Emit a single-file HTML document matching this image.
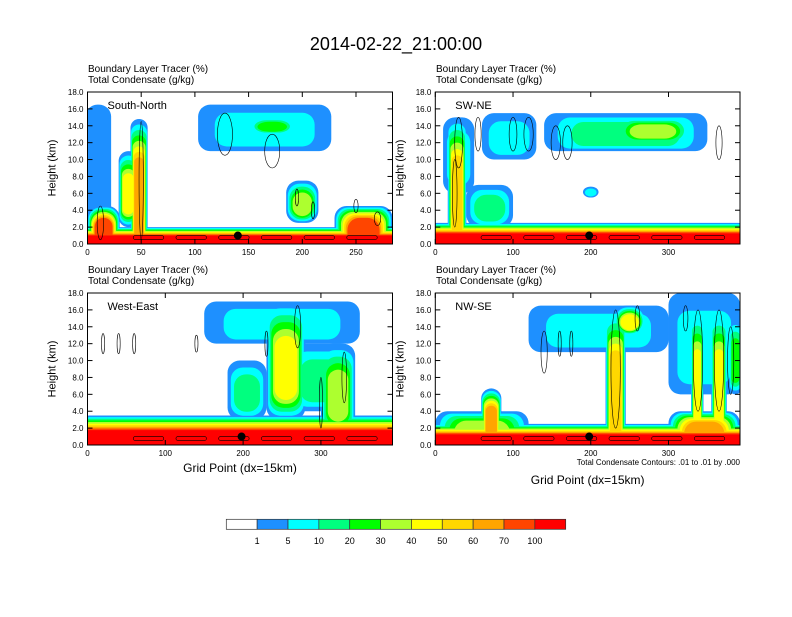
<!DOCTYPE html>
<html><head><meta charset="utf-8"><style>
body{margin:0;background:#fff}
svg text{font-family:"Liberation Sans",sans-serif;fill:#000}
</style></head><body>
<svg id="s" width="792" height="612" viewBox="0 0 792 612">
<rect width="792" height="612" fill="#fff"/>
<text x="396" y="50" font-size="18" text-anchor="middle">2014-02-22_21:00:00</text>
</svg>
<script>
const levelColors=["#ffffff","#1e90ff","#00ffff","#00ff7f","#00ff00","#adff2f","#ffff00","#ffd700","#ffa500","#ff4500","#ff0000"];
const cbarLabels=["1","5","10","20","30","40","50","60","70","100"];
const yTicks=[0,2,4,6,8,10,12,14,16,18];
const panelNames=["South-North","SW-NE","West-East","NW-SE"];
const xTicks1=[0,50,100,150,200,250];
const xTicks2=[0,100,200,300];
// plumes: center grid point, half width, base km, top km, max level
const p1cx=[142,10,48,38,165,172,200,257,15];
const p1hw=[142,12,8,9,62,22,15,27,15];
const p1z0=[0,3,0,2,11,13,2.5,0,0];
const p1z1=[2,16.5,14.8,11,16.5,15,7.5,4.5,4.5];
const p1lv=[10,1,8,6,2,4,5,9,9];
const p2cx=[196,28,30,95,245,280,200,70];
const p2hw=[196,12,20,35,105,50,10,30];
const p2z0=[0,0,6,10,11,12,5.5,2];
const p2z1=[2.5,15,15,15.5,15.5,15,6.8,7];
const p2lv=[10,7,2,2,3,5,2,3];
const p3cx=[196,250,255,205,322,300];
const p3hw=[196,100,25,25,22,40];
const p3z0=[0,12,3,3,1,4];
const p3z1=[3.5,17,17,10,12,12];
const p3lv=[10,2,6,3,5,3];
const p4cx=[196,72,60,210,232,250,346,337,365,386,346];
const p4hw=[196,13,60,90,13,20,46,8,10,8,46];
const p4z0=[0,0,0,11,0,13,6,0,0,6,0];
const p4z1=[2.5,6.7,4,16.5,16,16.5,18,16,16,15,4];
const p4lv=[10,8,5,2,7,6,2,6,6,4,8];
// contour ellipses: center grid, half width, center km, half height
const c1x=[128,172,50,12,195,210,250,270];const c1w=[7,7,2,3,1.5,1.5,2,3];const c1z=[13,11,7.5,2.5,5.5,4,4.5,3];const c1h=[2.5,2,7,2,1,1,0.8,0.8];
const c2x=[30,55,100,155,170,120,365,25];const c2w=[5,4,5,6,6,6,4,3];const c2z=[12,13,13,12,12,13,12,6];const c2h=[3,2,2,2,2,2,2,4];
const c3x=[20,40,60,140,230,270,330,300];const c3w=[2,2,2,2,2,4,3,2];const c3z=[12,12,12,12,12,14,8,5];const c3h=[1.2,1.2,1.2,1,1.5,2.5,3,3];
const c4x=[140,160,175,232,260,322,338,365,380];const c4w=[4,2,2,6,3,3,6,6,4];const c4z=[11,12,12,9,15,15,10,10,10];const c4h=[2.5,1.5,1.5,7,1.5,1.5,6,6,4];
const panels=[
 {x:87.5,y:92,w:305,h:152,xmax:284,xt:xTicks1,cx:p1cx,hw:p1hw,z0:p1z0,z1:p1z1,lv:p1lv,ex:c1x,ew:c1w,ez:c1z,eh:c1h,dot:140,tx:88,ty:68,gy:0},
 {x:435.3,y:92,w:304.7,h:152,xmax:392,xt:xTicks2,cx:p2cx,hw:p2hw,z0:p2z0,z1:p2z1,lv:p2lv,ex:c2x,ew:c2w,ez:c2z,eh:c2h,dot:198,tx:436,ty:68,gy:0},
 {x:87.5,y:293,w:305,h:152,xmax:392,xt:xTicks2,cx:p3cx,hw:p3hw,z0:p3z0,z1:p3z1,lv:p3lv,ex:c3x,ew:c3w,ez:c3z,eh:c3h,dot:198,tx:88,ty:269,gy:27},
 {x:435.3,y:293,w:304.7,h:152,xmax:392,xt:xTicks2,cx:p4cx,hw:p4hw,z0:p4z0,z1:p4z1,lv:p4lv,ex:c4x,ew:c4w,ez:c4z,eh:c4h,dot:198,tx:436,ty:269,gy:39}];
const NS="http://www.w3.org/2000/svg";const svg=document.getElementById('s');
function mk(t,a,p){const e=document.createElementNS(NS,t);for(const k in a)e.setAttribute(k,a[k]);(p||svg).appendChild(e);return e;}
panels.forEach((P,i)=>{
 const g=mk('g',{});
 
 
 const sx=v=>P.x+v/P.xmax*P.w, sy=z=>P.y+P.h-z/18*P.h;
 const cid='clip'+i;const cp=mk('clipPath',{id:cid},g);mk('rect',{x:P.x,y:P.y,width:P.w,height:P.h},cp);
 const area=mk('g',{'clip-path':'url(#'+cid+')'},g);
 for(let k=1;k<=10;k++){
  P.cx.forEach((c,j)=>{
   const L=P.lv[j]; if(k>L)return;
   const f=(k-1)/L;
   const wide=P.hw[j]>130;
   const hw=wide?P.hw[j]+2:P.hw[j]*(1-f*0.5);
   const span=P.z1[j]-P.z0[j];
   const top=P.z1[j]-span*f*(wide?0.55:0.35);
   const bot=P.z0[j]===0?-1:P.z0[j]+span*f*0.2;
   const x0=sx(c-hw),x1=sx(c+hw),y0=sy(top),y1=sy(bot);
   const r=mk('rect',{x:x0,y:y0,width:Math.max(1,x1-x0),height:Math.max(1,y1-y0),rx:wide?3:Math.min(12,(x1-x0)/2),fill:(wide&&k===9)?'#ff4500':levelColors[k]},area);
   
   
  });
 }
 P.ex.forEach((c,j)=>{
  const e=mk('ellipse',{cx:sx(c),cy:sy(P.ez[j]),rx:P.ew[j]*P.w/P.xmax,ry:P.eh[j]*P.h/18,fill:'none',stroke:'#000','stroke-width':0.6},area);
  
  
 });
 for(let q=0;q<6;q++){const e=mk('rect',{x:sx(P.xmax*(0.15+q*0.14)),y:sy(1.0),width:P.w*0.1,height:4,rx:2,fill:'none',stroke:'#000','stroke-width':0.6},area);
  }
 const d=mk('circle',{cx:sx(P.dot),cy:sy(1),r:4,fill:'#000'},g);
 
 const fr=mk('rect',{x:P.x,y:P.y,width:P.w,height:P.h,fill:'none',stroke:'#000','stroke-width':1},g);
 
 yTicks.forEach(v=>{const y=sy(v);mk('line',{x1:P.x,x2:P.x+5,y1:y,y2:y,stroke:'#000'},g);mk('line',{x1:P.x+P.w,x2:P.x+P.w-5,y1:y,y2:y,stroke:'#000'},g);
  const t=mk('text',{x:P.x-4,y:y+3,'font-size':8,'text-anchor':'end'},g);t.textContent=v.toFixed(1);
  });
 P.xt.forEach(v=>{const x=sx(v);mk('line',{x1:x,x2:x,y1:P.y+P.h,y2:P.y+P.h-5,stroke:'#000'},g);mk('line',{x1:x,x2:x,y1:P.y,y2:P.y+5,stroke:'#000'},g);
  const t=mk('text',{x:x,y:P.y+P.h+11,'font-size':8,'text-anchor':'middle'},g);t.textContent=v;
  });
 const yt=mk('text',{x:0,y:0,'font-size':11,'text-anchor':'middle',transform:`translate(${P.x-32},${P.y+P.h/2}) rotate(-90)`},g);yt.textContent='Height (km)';
 
 const t1=mk('text',{x:P.tx,y:P.ty+4,'font-size':10},g);t1.textContent='Boundary Layer Tracer   (%)';
 
 const t2=mk('text',{x:P.tx,y:P.ty+15,'font-size':10},g);t2.textContent='Total Condensate   (g/kg)';
 
 const nm=mk('text',{x:P.x+20,y:P.y+17,'font-size':11},g);nm.textContent=panelNames[i];
 
 if(i>=2){const xl=mk('text',{x:P.x+P.w/2,y:P.y+P.h+P.gy,'font-size':12,'text-anchor':'middle'},g);xl.textContent='Grid Point (dx=15km)';
  }
});
const ci=mk('text',{x:740,y:465,'font-size':8,'text-anchor':'end'});ci.textContent='Total Condensate Contours: .01 to .01 by .000';

const cb=mk('g',{});
const bw=(565.7-226.3)/11;
levelColors.forEach((c,k)=>{const r=mk('rect',{x:226.3+k*bw,y:519.3,width:bw,height:10,fill:c,stroke:'#333','stroke-width':0.7},cb);
 });
cbarLabels.forEach((l,k)=>{const t=mk('text',{x:226.3+(k+1)*bw,y:544,'font-size':9,'text-anchor':'middle'},cb);t.textContent=l;
 });
</script>
</body></html>
